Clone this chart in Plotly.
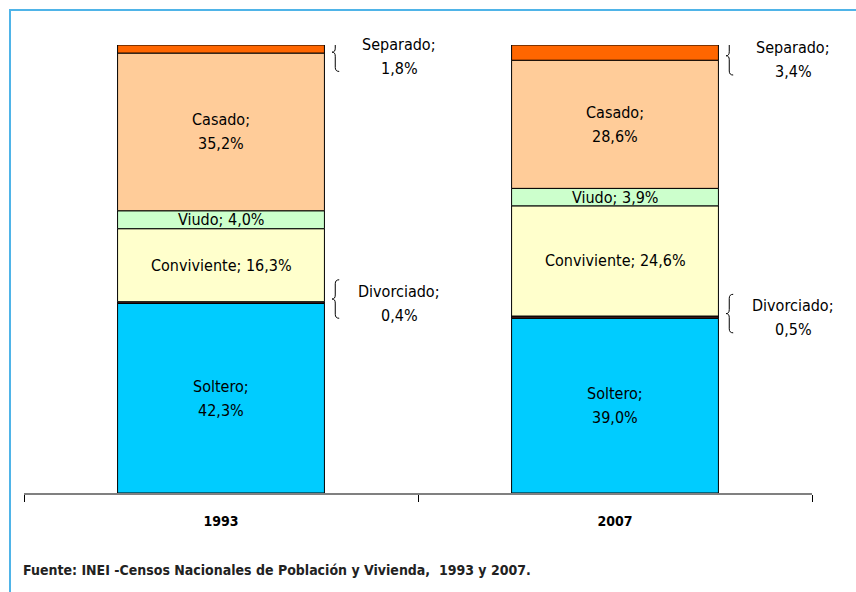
import plotly.graph_objects as go

years = ["1993", "2007"]
categories = ["Soltero", "Divorciado", "Conviviente", "Viudo", "Casado", "Separado"]
values = {
    "Soltero": [42.3, 39.0],
    "Divorciado": [0.4, 0.5],
    "Conviviente": [16.3, 24.6],
    "Viudo": [4.0, 3.9],
    "Casado": [35.2, 28.6],
    "Separado": [1.8, 3.4],
}
colors = {
    "Soltero": "#00CCFF",
    "Divorciado": "#4B1E1E",
    "Conviviente": "#FFFFCC",
    "Viudo": "#CCFFCC",
    "Casado": "#FFCC99",
    "Separado": "#FF6600",
}
inside_two_lines = {"Soltero", "Casado"}
inside_one_line = {"Conviviente", "Viudo"}
outside_labels = {"Separado", "Divorciado"}
source = "Fuente: INEI -Censos Nacionales de Población y Vivienda,  1993 y 2007."

FONT = "Liberation Sans Narrow, Arial Narrow, DejaVu Sans Condensed, sans-serif"
LBL = 16
BAR_W = 0.525
xs = list(range(len(years)))

fig = go.Figure()
annotations = []
shapes = []

def fmt(v):
    return f"{v:.1f}".replace(".", ",") + "%"

def two_lines(x, y, l1, l2, shift=0):
    for txt, dy in ((l1, 12), (l2, -12)):
        annotations.append(dict(x=x, y=y, xref="x", yref="y", text=txt, showarrow=False,
                                yshift=dy + shift,
                                font=dict(size=LBL, color="#000000", family=FONT)))

base = [0.0] * len(years)
for cat in categories:
    vals = values[cat]
    fig.add_trace(go.Bar(
        x=xs, y=vals, base=base[:], width=BAR_W, name=cat,
        marker=dict(color=colors[cat], line=dict(color="#000000", width=1)),
        hoverinfo="skip",
    ))
    for i, v in enumerate(vals):
        center = base[i] + v / 2
        if cat in inside_two_lines:
            two_lines(xs[i], center, f"{cat};", fmt(v))
        elif cat in inside_one_line:
            annotations.append(dict(x=xs[i], y=center, xref="x", yref="y",
                                    text=f"{cat}; {fmt(v)}", showarrow=False,
                                    font=dict(size=LBL, color="#000000", family=FONT)))
        elif cat in outside_labels:
            c = center + 0.8 if center < 50 else center - 0.7
            h = 4.3
            r = 0.9
            xt = xs[i] + 0.282
            xsp = xs[i] + 0.290
            xe = xs[i] + 0.300
            path = (f"M {xe},{c+h} Q {xsp},{c+h} {xsp},{c+h-r} L {xsp},{c+r} "
                    f"Q {xsp},{c} {xt},{c} Q {xsp},{c} {xsp},{c-r} L {xsp},{c-h+r} "
                    f"Q {xsp},{c-h} {xe},{c-h}")
            shapes.append(dict(type="path", path=path, xref="x", yref="y",
                               line=dict(color="#000000", width=1)))
            two_lines(xs[i] + 0.453, c, f"{cat};", fmt(v), shift=-4)
    base = [b + v for b, v in zip(base, vals)]

annotations.append(dict(x=-0.004, y=-0.172, xref="paper", yref="paper", xanchor="left",
                        yanchor="middle", text=f"<b>{source}</b>", showarrow=False,
                        font=dict(size=14, color="#222222", family=FONT)))

# frame
shapes.append(dict(type="rect", xref="paper", yref="paper",
                   x0=(10 - 24) / 788, x1=(870 - 24) / 788,
                   y0=(493 - 610) / 448, y1=1 + (45 - 10) / 448,
                   line=dict(color="#4FB4E8", width=2), fillcolor="rgba(0,0,0,0)"))

fig.update_layout(
    width=856, height=592,
    margin=dict(l=24, r=44, t=45, b=99),
    paper_bgcolor="white", plot_bgcolor="white",
    barmode="overlay", showlegend=False,
    annotations=annotations, shapes=shapes,
    font=dict(family=FONT),
)
fig.update_xaxes(range=[-0.5, 1.5], tickvals=xs, ticktext=[f"<b>{y}</b>" for y in years],
                 ticks="", showgrid=False, zeroline=False,
                 showline=True, linecolor="#808080", linewidth=2,
                 tickfont=dict(size=14, color="#000000", family=FONT), ticklabelstandoff=14,
                 minor=dict(tickvals=[-0.5, 0.5, 1.5], ticks="outside", ticklen=7,
                            tickcolor="#000000", tickwidth=1, showgrid=False))
fig.update_yaxes(range=[0, 100], visible=False)

fig.write_html("out.html", config={"displayModeBar": False},
               post_script="document.body.style.margin='0';document.body.style.overflow='hidden';")
